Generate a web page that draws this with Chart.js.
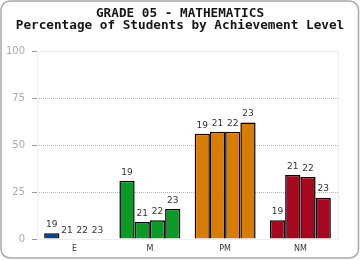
<!DOCTYPE html>
<html lang="en"><head>
<meta charset="UTF-8">
<title>Grade 05 Mathematics</title>
<script src="https://cdn.jsdelivr.net/npm/chart.js@4.4.1/dist/chart.umd.min.js"></script>
<style>
  body { margin:0; background:#ffffff; }
  #wrap { width:360px; height:260px; }
</style>
</head>
<body>
<div id="wrap"><canvas id="level_chart" width="360" height="260"></canvas></div>
<script>
// achievement levels and school years
const levels = ['E', 'M', 'PM', 'NM'];
const years = ['19', '21', '22', '23'];
const levelColors = ['#0b3f8f', '#0c9a27', '#d87c06', '#a5081f'];

// percent of students per level, one array per year
const pct19 = [3, 31, 56, 10];
const pct21 = [0, 9, 57, 34];
const pct22 = [0, 10, 57, 33];
const pct23 = [0, 16, 62, 22];

const yTicks = [0, 25, 50, 75, 100];
const titleLines = ['GRADE 05 - MATHEMATICS', 'Percentage of Students by Achievement Level'];

const seriesVals = [pct19, pct21, pct22, pct23];

// outer rounded frame, title, light plot box
const framePlugin = {
	id: 'frame',
	beforeDraw(chart) {
		const c = chart.ctx;
		c.save();
		c.fillStyle = '#ffffff';
		c.fillRect(0, 0, chart.width, chart.height);
		c.strokeStyle = '#a8a8a8';
		c.lineWidth = 1.5;
		c.beginPath();
		c.roundRect(1, 1, chart.width - 2.5, chart.height - 3, 9);
		c.stroke();
		// title, centred on the whole canvas
		c.font = 'bold 12.7px "DejaVu Sans Mono"';
		c.fillStyle = '#151515';
		c.textAlign = 'center';
		c.textBaseline = 'middle';
		c.fillText(titleLines[0], chart.width / 2, 14);
		c.fillText(titleLines[1], chart.width / 2, 25.5);
		c.restore();
	},
	beforeDatasetsDraw(chart) {
		const a = chart.chartArea;
		const c = chart.ctx;
		c.save();
		c.strokeStyle = '#eeeeee';
		c.lineWidth = 1;
		c.strokeRect(Math.round(a.left) + 0.5, Math.round(a.top) + 0.5,
			Math.round(a.right - a.left), Math.round(a.bottom - a.top));
		c.restore();
	}
};

// year label above every bar
const yearLabelPlugin = {
	id: 'yearLabels',
	afterDatasetsDraw(chart) {
		const c = chart.ctx;
		c.save();
		c.font = '9px "DejaVu Sans"';
		c.fillStyle = '#333333';
		c.textAlign = 'center';
		c.textBaseline = 'bottom';
		chart.data.datasets.forEach((ds, i) => {
			chart.getDatasetMeta(i).data.forEach(bar => {
				c.fillText(ds.label, bar.x, bar.y - 4);
			});
		});
		c.restore();
	}
};

let lChart = new Chart(document.getElementById('level_chart'), {
	type: 'bar',
	data: {
		labels: levels,
		datasets: years.map((y, i) => ({
			label: y,
			data: seriesVals[i],
			backgroundColor: levelColors,
			borderColor: '#000000',
			borderWidth: 1.5,
			borderSkipped: 'bottom',
			barPercentage: 1.0,
			categoryPercentage: 0.81
		}))
	},
	options: {
		responsive: false,
		animation: false,
		layout: { padding: { top: 51, right: 22, bottom: 0, left: 0 } },
		plugins: {
			legend: { display: false },
			tooltip: { enabled: false },
			title: { display: false }
		},
		scales: {
			x: {
				afterFit: s => { s.height = 21; },
				grid: { display: false, drawTicks: false, tickLength: 0 },
				border: { display: false },
				ticks: { font: { family: '"DejaVu Sans"', size: 8 }, color: '#333333', padding: 5 }
			},
			y: {
				min: 0, max: 100,
				afterFit: s => { s.width = 37; },
				afterBuildTicks: s => { s.ticks = yTicks.map(v => ({ value: v })); },
				border: { display: false, dash: [1, 1] },
				grid: {
					color: ctx => (ctx.tick && (ctx.tick.value === 0 || ctx.tick.value === 100)) ? 'rgba(0,0,0,0)' : '#b4b4b4',
					tickColor: '#999999',
					tickBorderDash: [],
					tickLength: 5
				},
				ticks: { font: { family: '"DejaVu Sans"', size: 10 }, color: '#aaaaaa', padding: 7 }
			}
		}
	},
	plugins: [framePlugin, yearLabelPlugin]
});
</script>
</body></html>
